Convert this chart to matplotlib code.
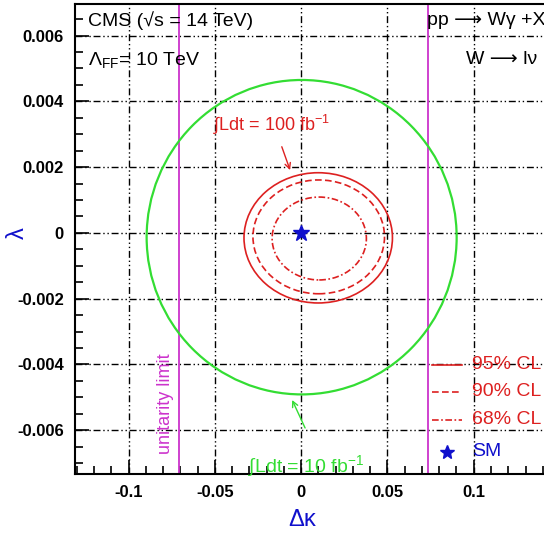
import numpy as np
import matplotlib.pyplot as plt
from matplotlib.patches import Ellipse

plt.rcParams['font.family'] = ['Liberation Sans', 'DejaVu Sans']
plt.rcParams['mathtext.fontset'] = 'custom'
plt.rcParams['mathtext.rm'] = 'Liberation Sans'
plt.rcParams['mathtext.it'] = 'Liberation Sans:italic'
plt.rcParams['mathtext.sf'] = 'Liberation Sans'

# contours (ellipse fits): centre dk, centre lam, half width dk, half height lam
cl_labels = ['95% CL', '90% CL', '68% CL']
cl_dk0 = [0.0099, 0.0102, 0.0105]
cl_lam0 = [-0.00015, -0.00012, -0.00017]
cl_rdk = [0.0430, 0.0381, 0.0273]
cl_rlam = [0.00198, 0.00173, 0.00126]
cl_styles = ['-', (0, (4, 2)), (0, (4, 1.5, 1, 1.5))]

# 10 fb^-1 contour
green_dk0 = 0.0003
green_lam0 = -0.00013
green_rdk = 0.0898
green_rlam = 0.00478

# unitarity limits
unitarity_dk = [-0.0709, 0.0733]

sm_point = (0.0, 0.0)

xticks = [-0.1, -0.05, 0, 0.05, 0.1]
xtick_labels = ['-0.1', '-0.05', '0', '0.05', '0.1']
yticks = [-0.006, -0.004, -0.002, 0, 0.002, 0.004, 0.006]
ytick_labels = ['-0.006', '-0.004', '-0.002', '0', '0.002', '0.004', '0.006']

RED = '#dd2020'
GREEN = '#33dd33'
MAGENTA = '#cc33cc'
BLUE = '#1010cc'

fig = plt.figure(figsize=(5.44, 5.40), dpi=100)
ax = fig.add_axes([75 / 544, 1 - 474 / 540, 1 - 75 / 544, 470 / 540])
ax.set_xlim(-0.131, 0.1407)
ax.set_ylim(-0.00733, 0.00696)

# grid
for x in xticks:
    ax.axvline(x, color='black', lw=1, ls=(0, (5, 2, 1, 2, 1, 2)), zorder=1)
for y in yticks:
    ax.axhline(y, color='black', lw=1, ls=(0, (5, 2, 1, 2, 1, 2)), zorder=1)

# CL contours
for i in range(3):
    e = Ellipse((cl_dk0[i], cl_lam0[i]), 2 * cl_rdk[i], 2 * cl_rlam[i],
                fill=False, edgecolor=RED, lw=1.2, ls=cl_styles[i], zorder=3)
    ax.add_patch(e)

e = Ellipse((green_dk0, green_lam0), 2 * green_rdk, 2 * green_rlam,
            fill=False, edgecolor=GREEN, lw=1.6, zorder=3)
ax.add_patch(e)

for x in unitarity_dk:
    ax.axvline(x, color=MAGENTA, lw=1.3, zorder=2)

ax.plot(*sm_point, marker='*', color=BLUE, ms=12, ls='none', zorder=5)

# texts
ax.text(-0.1233, 0.00647, 'CMS (√s = 14 TeV)', fontsize=14, va='center')
ax.text(-0.1233, 0.00526, r'$\Lambda_{\rm FF}$= 10 TeV', fontsize=14, va='center')
ax.text(0.1415, 0.00647, 'pp ⟶ Wγ +X', fontsize=14, va='center', ha='right')
ax.text(0.137, 0.00526, 'W ⟶ lν', fontsize=14, va='center', ha='right')

ax.text(-0.051, 0.00328, r'$\int$Ldt = 100 fb$^{-1}$', color=RED, fontsize=13, va='center')
ax.annotate('', xy=(-0.0064, 0.00191), xytext=(-0.0112, 0.00262),
            arrowprops=dict(arrowstyle='->', color=RED, lw=1, shrinkA=0, shrinkB=0))
ax.text(-0.0307, -0.00708, r'$\int$Ldt = 10 fb$^{-1}$', color=GREEN, fontsize=14, va='center')
ax.annotate('', xy=(-0.0052, -0.00508), xytext=(0.0023, -0.00593),
            arrowprops=dict(arrowstyle='->', color=GREEN, lw=1, shrinkA=0, shrinkB=0))

ax.text(-0.0788, -0.0052, 'unitarity limit', color=MAGENTA, fontsize=13,
        rotation=90, ha='center', va='center')

# legend drawn by hand
leg_y = [-0.00401, -0.00483, -0.00568]
for i in range(3):
    ax.plot([0.0759, 0.0933], [leg_y[i]] * 2, color=RED, lw=1.2, ls=cl_styles[i], zorder=4)
    ax.text(0.099, leg_y[i], cl_labels[i], color=RED, fontsize=14, va='center')
ax.plot(0.0845, -0.00666, marker='*', color=BLUE, ms=10, ls='none')
ax.text(0.099, -0.00666, 'SM', color=BLUE, fontsize=14, va='center')

ax.set_xticks(xticks)
ax.set_xticklabels(xtick_labels, fontweight='bold', fontsize=12)
ax.set_yticks(yticks)
ax.set_yticklabels(ytick_labels, fontweight='bold', fontsize=12)
ax.set_xticks(np.arange(-0.13, 0.141, 0.01), minor=True)
ax.set_yticks(np.arange(-0.007, 0.0069, 0.0005), minor=True)
ax.tick_params(which='both', direction='in', top=False, right=False)
ax.tick_params(which='major', length=10, width=1.2, pad=8)
ax.tick_params(which='minor', length=6, width=1.2)
ax.spines['right'].set_visible(False)
for s in ['left', 'bottom', 'top']:
    ax.spines[s].set_linewidth(1.5)

ax.text((302 - 75) / 469, (474 - 520) / 470, 'Δκ', color=BLUE, fontsize=17,
        ha='center', va='center', transform=ax.transAxes)
ax.text((18 - 75) / 469, (474 - 233) / 470, 'λ', color=BLUE, fontsize=17,
        ha='center', va='center', rotation=90, transform=ax.transAxes)

fig.savefig('out.png', dpi=100)
